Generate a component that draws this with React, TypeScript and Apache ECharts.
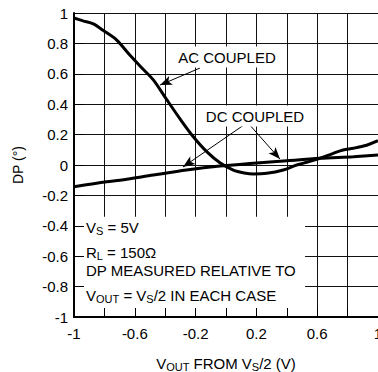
import React, { useEffect, useRef } from "react";
import * as echarts from "echarts";

const acX = [-1, -0.94, -0.873, -0.8, -0.719, -0.63, -0.55, -0.478, -0.39, -0.3, -0.215, -0.127, -0.04, 0.048, 0.12, 0.18, 0.268, 0.377, 0.465, 0.596, 0.706, 0.77, 0.838, 0.925, 1.0];
const acY = [0.967, 0.948, 0.928, 0.88, 0.822, 0.72, 0.635, 0.56, 0.43, 0.3, 0.186, 0.088, 0.015, -0.033, -0.052, -0.059, -0.055, -0.033, 0.0, 0.037, 0.077, 0.099, 0.11, 0.13, 0.16];
const dcX = [-1, -0.785, -0.697, -0.478, -0.26, -0.04, 0.18, 0.4, 0.618, 0.838, 1.0];
const dcY = [-0.143, -0.11, -0.1, -0.066, -0.033, -0.007, 0.011, 0.028, 0.044, 0.055, 0.066];

const xRange = [-1, 1];
const yRange = [-1, 1];
const tickStep = 0.2;
const gridX = [-0.8, -0.6, -0.4, -0.2, 0, 0.2, 0.4, 0.6, 0.8];
const gridY = [-0.8, -0.6, -0.4, -0.2, 0, 0.2, 0.4, 0.6, 0.8, 1];

// annotation arrows: [start, end] in data units
const arrowLines = [
  [[-0.171, 0.638], [-0.434, 0.526]],
  [[0.136, 0.276], [-0.283, -0.013]],
  [[0.145, 0.276], [0.355, 0.039]],
];
// white note box corners in data units: [x0, y0, x1, y1]
const noteBox = [-1, -0.34, 0.52, -1];

const FONT = "'Liberation Sans', Arial, Helvetica, sans-serif";

export default function App() {
  const ref = useRef<HTMLDivElement>(null);
  useEffect(() => {
    const chart = echarts.init(ref.current!, null, { renderer: "svg" });
    const sub = { fontSize: 11, lineHeight: 10, verticalAlign: "bottom", fontFamily: FONT, color: "#000" };
    const gridAxis = (range: number[], pos: string) => ({
      type: "value",
      min: range[0],
      max: range[1],
      interval: tickStep,
      position: pos,
      axisLine: { show: true, onZero: false },
      axisTick: { show: true, inside: true, length: 1 },
      axisLabel: { show: false },
      splitLine: { show: true, lineStyle: { color: "#111", width: 1 } },
    });
    const option: any = {
      animation: false,
      textStyle: { fontFamily: FONT, color: "#000" },
      grid: { left: 74, right: 0, top: 13, bottom: 55, outerBoundsMode: "none" },
      xAxis: [
        gridAxis(xRange, "bottom"),
        {
          type: "value",
          min: xRange[0],
          max: xRange[1],
          interval: tickStep,
          position: "bottom",
          z: 10,
          axisLine: { show: true, onZero: false, lineStyle: { color: "#000", width: 2 } },
          axisTick: { show: true, inside: true, length: 9, lineStyle: { color: "#000", width: 1 } },
          axisLabel: {
            show: true,
            margin: 9,
            fontSize: 15,
            color: "#000",
            fontFamily: FONT,
            formatter: (v: number) => (Math.abs(Math.round(v * 10)) % 4 === 2 ? String(v) : ""),
          },
          splitLine: { show: false },
          name: "V{s|OUT} FROM V{s|S}/2 (V)",
          nameLocation: "middle",
          nameGap: 37,
          nameTextStyle: { fontSize: 15, lineHeight: 18, color: "#000", fontFamily: FONT, rich: { s: sub } },
        },
      ],
      yAxis: [
        gridAxis(yRange, "left"),
        {
          type: "value",
          min: yRange[0],
          max: yRange[1],
          interval: tickStep,
          position: "left",
          z: 10,
          axisLine: { show: true, onZero: false, lineStyle: { color: "#000", width: 2 } },
          axisTick: { show: true, inside: true, length: 10, lineStyle: { color: "#000", width: 1 } },
          axisLabel: { show: true, margin: 6, fontSize: 15, color: "#000", fontFamily: FONT },
          splitLine: { show: false },
          name: "DP (°)",
          nameLocation: "middle",
          nameGap: 49,
          nameTextStyle: { fontSize: 14, color: "#000", fontFamily: FONT },
        },
      ],
      series: [
        {
          type: "custom",
          name: "note box",
          xAxisIndex: 0,
          yAxisIndex: 0,
          z: 3.5,
          silent: true,
          encode: { x: [0, 2], y: [1, 3] },
          data: [noteBox],
          renderItem: (params: any, api: any) => {
            const p0 = api.coord([api.value(0), api.value(1)]);
            const p1 = api.coord([api.value(2), api.value(3)]);
            return {
              type: "rect",
              shape: {
                x: Math.min(p0[0], p1[0]),
                y: Math.min(p0[1], p1[1]),
                width: Math.abs(p1[0] - p0[0]),
                height: Math.abs(p1[1] - p0[1]),
              },
              style: { fill: "#fff" },
            };
          },
        },
        {
          type: "line",
          name: "AC",
          xAxisIndex: 0,
          yAxisIndex: 0,
          data: acX.map((x, i) => [x, acY[i]]),
          symbol: "none",
          smooth: 0.3,
          lineStyle: { color: "#000", width: 3 },
          z: 4,
          markLine: {
            silent: true,
            z: 3.1,
            symbol: ["none", "none"],
            label: { show: false },
            lineStyle: { color: "#111", width: 1, type: "solid" },
            data: [...gridX.map((v) => ({ xAxis: v })), ...gridY.map((v) => ({ yAxis: v }))],
          },
        },
        {
          type: "line",
          name: "DC",
          xAxisIndex: 0,
          yAxisIndex: 0,
          data: dcX.map((x, i) => [x, dcY[i]]),
          symbol: "none",
          smooth: 0.3,
          lineStyle: { color: "#000", width: 3 },
          z: 4,
          markLine: {
            silent: true,
            z: 5,
            symbol: ["none", "arrow"],
            symbolSize: [7, 12],
            label: { show: false },
            lineStyle: { color: "#000", width: 1, type: "solid" },
            data: arrowLines.map(([a, b]) => [{ coord: a }, { coord: b }]),
          },
        },
      ],
      graphic: [
        {
          type: "text",
          x: 227,
          y: 57,
          z: 20,
          style: {
            text: "AC COUPLED",
            fontSize: 15,
            fontFamily: FONT,
            fill: "#000",
            align: "center",
            verticalAlign: "middle",
            backgroundColor: "#fff",
            padding: [3, 3],
          },
        },
        {
          type: "text",
          x: 255,
          y: 116,
          z: 20,
          style: {
            text: "DC COUPLED",
            fontSize: 15,
            fontFamily: FONT,
            fill: "#000",
            align: "center",
            verticalAlign: "middle",
            backgroundColor: "#fff",
            padding: [3, 3],
          },
        },
        ...[
          { t: "V{s|S} = 5V", y: 227 },
          { t: "R{s|L} = 150Ω", y: 252 },
          { t: "DP MEASURED RELATIVE TO", y: 270 },
          { t: "V{s|OUT} = V{s|S}/2 IN EACH CASE", y: 295 },
        ].map((l) => ({
          type: "text",
          x: 86,
          y: l.y,
          z: 20,
          style: {
            text: l.t,
            fontSize: 15,
            lineHeight: 18,
            fontFamily: FONT,
            fill: "#000",
            align: "left",
            verticalAlign: "middle",
            rich: { s: { ...sub, fill: "#000" } },
          },
        })),
      ],
    };
    chart.setOption(option);
    return () => chart.dispose();
  }, []);
  return <div ref={ref} style={{ position: "absolute", left: 0, top: 0, width: 378, height: 372 }} />;
}
